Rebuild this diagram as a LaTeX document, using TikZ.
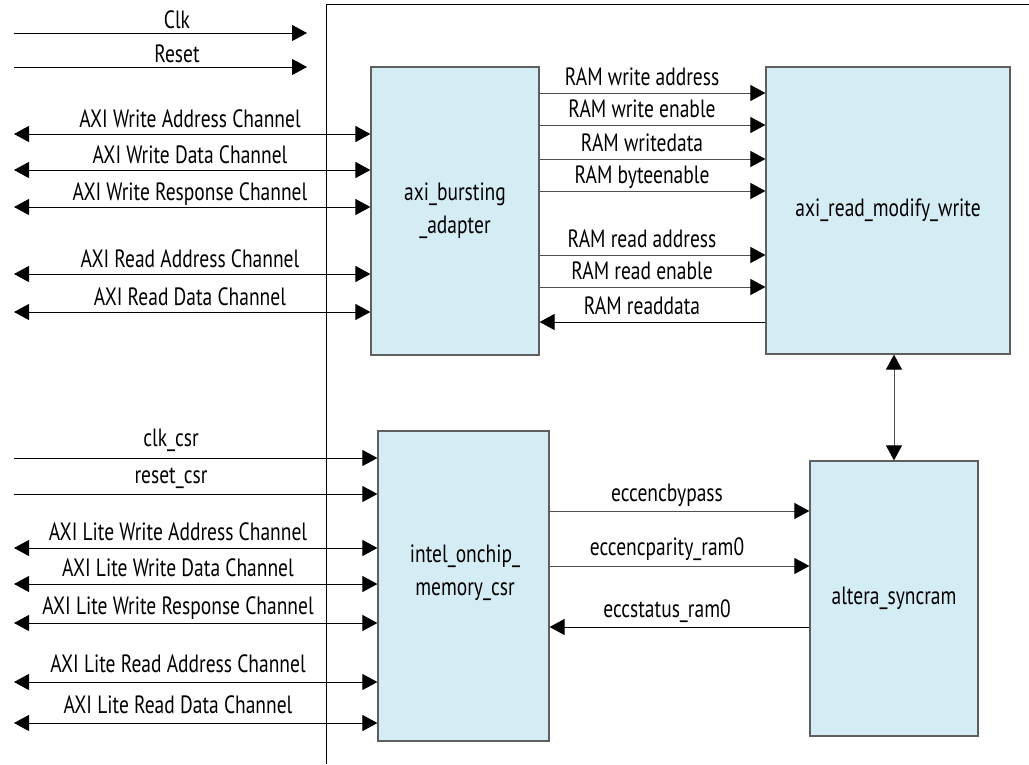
\documentclass[tikz,border=0pt]{standalone}
\usepackage{fontspec}
\setmainfont{PT Sans}[FakeStretch=0.78]
\usetikzlibrary{arrows.meta}
\definecolor{boxfill}{RGB}{212,236,243}
\definecolor{boxline}{RGB}{95,95,95}
\definecolor{sigline}{RGB}{80,80,80}
\begin{document}
\begin{tikzpicture}[x=1pt,y=-1pt,
  block/.style={draw=boxline, fill=boxfill, line width=1.2pt, inner sep=0pt, font=\fontsize{25}{33}\selectfont, align=center},
  lab/.style={font=\fontsize{25}{28}\selectfont, inner sep=0pt, anchor=base},
  tip/.tip={Triangle[length=15pt,width=16pt,color=black]},
  sig/.style={line width=1pt, draw=sigline, -tip},
  sigk/.style={line width=1pt, draw=black, -tip},
  bi/.style={line width=1pt, draw=black, tip-tip},
  big/.style={line width=1pt, draw=sigline, tip-tip},
  frame/.style={line width=1pt, draw=black}
]
\useasboundingbox (0,0) rectangle (1029,764);
\fill[white] (0,0) rectangle (1029,764);

% boundary
\coordinate (fb) at (326,764);
\coordinate (fc) at (326,4);
\coordinate (fr) at (1029,4);
\draw[frame] (fb) -- (fc) -- (fr);

% blocks
\node[block, minimum width=168pt, minimum height=288pt] (bur) at (455,211) {axi\_bursting\\\_adapter};
\node[block, minimum width=244pt, minimum height=287pt] (rmw) at (888,210.5) {axi\_read\_modify\_write};
\node[block, minimum width=171pt, minimum height=310pt] (csr) at (463.5,586) {};
\node[font=\fontsize{25}{33}\selectfont, align=center, inner sep=0pt] (csrt) at (465,573) {intel\_onchip\_\\memory\_csr};
\node[block, minimum width=168pt, minimum height=275pt] (syn) at (894,598.5) {altera\_syncram};

% clock / reset (top)
\coordinate (clkL) at (14,33);  \coordinate (clkR) at (307,33);
\coordinate (rstL) at (14,67);  \coordinate (rstR) at (307,67);
\draw[sigk] (clkL) -- (clkR);
\draw[sigk] (rstL) -- (rstR);
\node[lab] (lclk) at (177,28) {Clk};
\node[lab] (lrst) at (177,62) {Reset};

% AXI channels into bursting adapter
\foreach \y/\n in {134/wa,170/wd,207/wr,274/ra,312/rd}{
  \coordinate (axi\n) at (14,\y);
  \draw[bi] (axi\n) -- (axi\n -| bur.west);
}
\node[lab] (lwa) at (190,127) {AXI Write Address Channel};
\node[lab] (lwd) at (190,163) {AXI Write Data Channel};
\node[lab] (lwr) at (190,200) {AXI Write Response Channel};
\node[lab] (lra) at (190,267) {AXI Read Address Channel};
\node[lab] (lrd) at (190,305) {AXI Read Data Channel};

% csr inputs
\coordinate (cclk) at (14,458);
\coordinate (crst) at (14,494);
\draw[sigk] (cclk) -- (cclk -| csr.west);
\draw[sigk] (crst) -- (crst -| csr.west);
\node[lab] (lcclk) at (171,446) {clk\_csr};
\node[lab] (lcrst) at (171,483) {reset\_csr};
\foreach \y/\n in {548/wa,584/wd,623/wr,682/ra,723/rd}{
  \coordinate (lite\n) at (14,\y);
  \draw[bi] (lite\n) -- (lite\n -| csr.west);
}
\node[lab] (llwa) at (178,540) {AXI Lite Write Address Channel};
\node[lab] (llwd) at (178,576) {AXI Lite Write Data Channel};
\node[lab] (llwr) at (178,614) {AXI Lite Write Response Channel};
\node[lab] (llra) at (178,672) {AXI Lite Read Address Channel};
\node[lab] (llrd) at (178,713) {AXI Lite Read Data Channel};

% RAM signals
\foreach \y/\n in {93/a,125/b,159/c,191/d,255/e,287/f}{
  \coordinate (ram\n) at (0,\y);
  \draw[sig] (ram\n -| bur.east) -- (ram\n -| rmw.west);
}
\coordinate (ramg) at (0,322);
\draw[sigk] (ramg -| rmw.west) -- (ramg -| bur.east);
\node[lab] (lram1) at (642,85) {RAM write address};
\node[lab] (lram2) at (642,117) {RAM write enable};
\node[lab] (lram3) at (642,151) {RAM writedata};
\node[lab] (lram4) at (642,183) {RAM byteenable};
\node[lab] (lram5) at (642,247) {RAM read address};
\node[lab] (lram6) at (642,279) {RAM read enable};
\node[lab] (lram7) at (642,314) {RAM readdata};

% rmw <-> syncram
\draw[big] (syn.north |- rmw.south) -- (syn.north);

% ecc signals
\coordinate (ecc1) at (0,511);
\coordinate (ecc2) at (0,566);
\coordinate (ecc3) at (0,627);
\draw[sig] (ecc1 -| csr.east) -- (ecc1 -| syn.west);
\draw[sig] (ecc2 -| csr.east) -- (ecc2 -| syn.west);
\draw[sigk] (ecc3 -| syn.west) -- (ecc3 -| csr.east);
\node[lab] (le1) at (667,501) {eccencbypass};
\node[lab] (le2) at (667,555) {eccencparity\_ram0};
\node[lab] (le3) at (667,617) {eccstatus\_ram0};
\end{tikzpicture}
\end{document}
